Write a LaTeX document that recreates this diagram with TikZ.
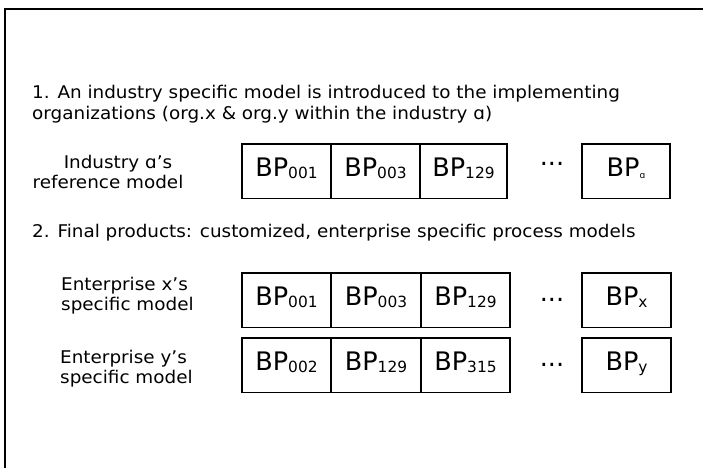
\documentclass[tikz,border=0pt]{standalone}
\usepackage{fontspec}
\setmainfont{DejaVu Sans}
\newfontfamily\widefont[FakeStretch=1.05]{DejaVu Sans}
\newcommand\bpsub[1]{\raisebox{-2.5pt}{\fontsize{15.4}{16}\selectfont #1}}
\newcommand\bptiny[1]{\raisebox{-2.5pt}{\fontsize{9}{10}\selectfont #1}}
\begin{document}
\begin{tikzpicture}[x=1pt,y=-1pt,
  bp/.style={draw, line width=1.5pt, inner xsep=0pt, inner ysep=0pt,
    text height=32pt, text depth=22.5pt, anchor=base,
    font=\fontsize{25.5}{28}\selectfont},
  txt/.style={font=\widefont\fontsize{17.5}{21}\selectfont, inner sep=0pt, anchor=base west},
  ctxt/.style={font=\widefont\fontsize{17.5}{21}\selectfont, inner sep=0pt, anchor=base},
  dots/.style={font=\fontsize{25.5}{28}\selectfont, inner sep=0pt, anchor=base}]
\useasboundingbox (0,0) rectangle (703,467);
\coordinate (fa) at (5,480);
\coordinate (fb) at (5,9);
\coordinate (fc) at (720,9);
\draw[line width=1.5pt] (fa) -- (fb) -- (fc);

% headings
\node[txt] (h1a) at (32,98) {1. An industry specific model is introduced to the implementing};
\node[txt] (h1b) at (32,119) {organizations (org.x \& org.y within the industry ɑ)};
\node[txt] (h2) at (32,237) {2. Final products: customized, enterprise specific process models};

% row labels
\node[ctxt] (l1a) at (118,168) {Industry ɑ’s};
\node[ctxt] (l1b) at (108,188) {reference model};
\node[txt] (l2a) at (61,290) {Enterprise x’s};
\node[txt] (l2b) at (61,310) {specific model};
\node[txt] (l3a) at (60,363) {Enterprise y’s};
\node[txt] (l3b) at (60,383) {specific model};

% row 1
\node[bp, minimum width=89pt] (a1) at (286.5,176) {BP\bpsub{001}};
\node[bp, minimum width=89pt] (a2) at (375.5,176) {BP\bpsub{003}};
\node[bp, minimum width=87pt] (a3) at (463.5,176) {BP\bpsub{129}};
\node[dots] (ad) at (552,165) {...};
\node[bp, minimum width=88pt] (a4) at (626,176) {BP\bptiny{ɑ}};

% row x
\node[bp, minimum width=89pt] (x1) at (286.5,305) {BP\bpsub{001}};
\node[bp, minimum width=90pt] (x2) at (376,305) {BP\bpsub{003}};
\node[bp, minimum width=89pt] (x3) at (465.5,305) {BP\bpsub{129}};
\node[dots] (xd) at (552,301) {...};
\node[bp, minimum width=89pt] (x4) at (626.5,305) {BP\bpsub{x}};

% row y
\node[bp, minimum width=89pt] (y1) at (286.5,370) {BP\bpsub{002}};
\node[bp, minimum width=90pt] (y2) at (376,370) {BP\bpsub{129}};
\node[bp, minimum width=89pt] (y3) at (465.5,370) {BP\bpsub{315}};
\node[dots] (yd) at (552,366) {...};
\node[bp, minimum width=89pt] (y4) at (626.5,370) {BP\bpsub{y}};
\end{tikzpicture}
\end{document}
